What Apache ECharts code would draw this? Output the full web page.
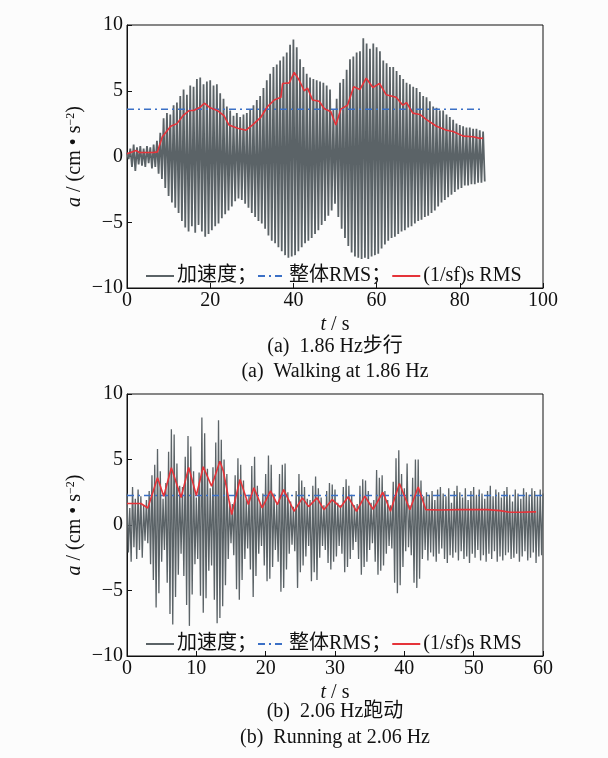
<!DOCTYPE html>
<html>
<head>
<meta charset="utf-8">
<script src="https://cdn.jsdelivr.net/npm/echarts@6/dist/echarts.min.js"></script>
<style>
html,body{margin:0;padding:0;background:#fcfcfc;}
#c{width:608px;height:758px;}
</style>
</head>
<body>
<div id="c"></div>
<script>
// ---------- Data ----------
// (a) Walking at 1.86 Hz : acceleration samples, one every walkDt seconds starting at 0 s
const walkDt = 0.4;
const walkAcc = [
  0.3,-0.2,0.6,-0.8,0.9,-1.1,0.7,-0.6,0.8,-0.7,
  0.6,-0.8,0.8,-0.5,0.7,-0.9,0.9,-0.8,1.2,-1.3,
  1.8,-1.7,2.9,-2.4,3.3,-3.0,3.2,-3.5,3.9,-3.9,
  4.1,-4.3,4.6,-4.9,5.1,-5.4,4.7,-5.7,5.4,-5.3,
  5.3,-5.8,5.9,-5.2,6.0,-5.7,5.5,-6.1,5.7,-5.9,
  5.8,-5.6,5.4,-5.3,5.5,-5.1,4.8,-4.7,4.4,-4.4,
  3.8,-4.1,3.5,-3.8,3.1,-3.4,3.3,-3.2,3.0,-3.3,
  3.2,-3.6,3.3,-3.9,3.6,-4.3,3.9,-4.6,4.3,-4.9,
  4.6,-5.1,5.2,-5.5,5.8,-6.0,6.3,-6.4,6.8,-6.6,
  7.0,-6.9,7.3,-7.2,7.6,-7.5,7.9,-7.7,8.5,-7.6,
  8.9,-7.5,8.3,-7.2,7.4,-6.9,6.8,-6.6,6.3,-6.4,
  6.0,-6.2,5.9,-5.9,5.8,-5.6,5.7,-5.2,5.6,-4.9,
  5.4,-4.5,5.1,-4.1,3.6,-3.6,4.4,-4.6,5.6,-5.5,
  5.9,-6.2,6.6,-6.8,7.4,-7.3,7.6,-7.6,7.9,-7.7,
  8.0,-7.8,9.0,-7.7,8.6,-7.8,8.2,-7.6,8.6,-7.5,
  8.3,-7.4,8.0,-7.0,7.3,-6.7,7.1,-6.4,6.8,-6.2,
  6.8,-6.1,6.5,-5.9,6.2,-5.7,5.9,-5.6,5.6,-5.4,
  5.5,-5.3,5.3,-5.1,5.2,-4.9,4.9,-4.8,4.6,-4.6,
  4.5,-4.5,4.2,-4.3,3.8,-4.1,3.7,-3.8,3.5,-3.5,
  3.5,-3.3,3.2,-3.1,3.0,-2.9,2.8,-2.7,2.5,-2.5,
  2.4,-2.4,2.3,-2.2,2.2,-2.2,2.2,-2.1,2.1,-2.1,
  2.1,-2.0,2.0,-2.0,1.9,-1.9
];
const walkRmsTime = [0,2.2,3,6.4,7.3,8.5,10.5,12,13.6,15,16,17.6,18.6,20,21.7,23.3,24.5,26.6,28.6,30.2,32.2,33.8,35.4,37,37.4,39,40.2,41.4,42.6,43.4,44.6,46.2,47.4,49,50.2,51.4,53,54.5,56,57.5,59.1,60.7,62.3,64.7,66.3,67.2,68.7,70.4,72,74.4,76.8,78.4,80.8,83.2,84.8,85.6];
const walkRmsValue = [0.2,0.45,0.3,0.3,0.35,1.5,2.3,2.5,3.15,3.5,3.5,3.75,4.05,3.7,3.5,3.1,2.4,2.15,2.0,2.4,3.0,3.8,4.3,4.5,5.55,5.6,6.4,5.8,5.0,5.2,4.3,4.2,3.65,3.4,2.4,3.6,3.9,5.3,5.1,5.95,5.25,5.55,4.7,4.5,3.9,4.1,3.3,3.2,2.8,2.3,2.0,1.9,1.55,1.5,1.38,1.4];
const walkOverallRms = 3.6;
const walkOverallSpan = [0, 85.6];

// (b) Running at 2.06 Hz : acceleration samples, one every runDt seconds starting at 0 s
const runDt = 0.2;
const runAcc = [
  2.4,-2.1,1.3,-2.8,2.9,-1.7,2.0,-2.6,2.7,-1.9,
  2.2,-2.5,1.5,-1.2,1.9,-1.4,2.6,-3.0,3.8,-4.2,
  4.6,-6.3,5.8,-5.2,4.1,-2.8,2.0,-1.9,3.2,-4.4,
  5.6,-6.8,7.3,-7.6,6.9,-5.5,4.7,-3.8,3.0,-2.2,
  2.9,-3.9,5.2,-6.1,6.8,-7.7,6.0,-5.3,4.1,-3.0,
  2.1,-2.6,4.0,-5.4,8.2,-6.7,7.0,-5.6,4.3,-3.5,
  2.8,-3.1,4.4,-5.7,6.3,-7.5,8.0,-7.1,6.5,-6.2,
  5.0,-4.6,3.9,-2.6,1.8,-1.4,1.6,-2.3,3.8,-4.9,
  5.1,-5.7,4.6,-4.2,3.4,-2.6,2.0,-1.8,2.3,-3.4,
  4.5,-5.5,5.2,-3.9,3.0,-2.2,1.7,-1.6,2.4,-3.1,
  3.9,-4.3,5.3,-4.1,4.6,-3.2,2.4,-1.9,1.6,-2.8,
  3.9,-5.1,4.6,-4.8,4.7,-3.4,2.5,-2.2,1.8,-1.5,
  1.4,-2.0,2.6,-4.8,3.9,-3.6,3.4,-3.1,2.9,-2.4,
  2.0,-1.6,1.9,-4.3,3.0,-3.6,3.7,-4.2,2.8,-2.5,
  2.1,-1.6,1.5,-1.9,2.6,-2.9,3.2,-3.4,3.1,-2.8,
  2.7,-2.4,1.7,-1.6,1.5,-2.2,2.9,-3.6,3.5,-3.2,
  3.0,-2.6,2.3,-1.9,1.5,-1.3,1.6,-2.6,3.0,-3.8,
  3.5,-3.2,3.4,-2.8,2.6,-1.9,1.7,-1.4,1.9,-2.8,
  4.2,-3.8,3.6,-3.5,3.8,-3.1,2.6,-2.2,1.9,-1.6,
  1.5,-1.8,3.3,-4.4,5.1,-5.2,5.7,-4.6,3.9,-3.2,
  2.8,-2.0,4.7,-1.7,1.5,-2.3,3.6,-4.4,5.0,-4.8,
  5.0,-4.1,3.4,-2.6,2.2,-1.9,2.5,-2.7,2.3,-2.1,
  2.6,-2.4,1.9,-2.8,2.7,-2.2,2.9,-1.8,2.4,-2.6,
  2.2,-2.9,2.8,-2.3,1.7,-2.5,2.6,-2.1,3.0,-2.7,
  2.5,-2.0,2.1,-2.6,2.8,-2.4,1.9,-2.9,2.6,-2.2,
  2.9,-2.5,2.3,-1.9,2.7,-2.7,2.4,-2.3,2.0,-2.8,
  2.6,-2.2,3.0,-2.6,2.2,-2.0,2.7,-2.8,2.5,-2.4,
  2.1,-2.7,2.6,-2.3,2.9,-2.1,2.3,-2.6,1.8,-2.5,
  2.7,-2.2,2.4,-2.8,2.0,-2.4,2.8,-2.0,2.5,-2.7,
  2.3,-2.5,2.8,-2.1,2.6,-2.9,2.2,-2.4,2.7,-2.3,
  2.4
];
const runRmsTime = [0,2,3,4.4,5.3,6.4,7.8,8.9,10,11,12.2,13.4,13.9,15.1,16.3,17.5,18.3,19.5,20.7,21.7,22.6,24.1,25.3,26.2,27.4,28.4,29.6,30.8,31.9,33.1,34.3,35.5,36.9,38,39.3,40.8,42,43.1,45.1,48,51.9,53.8,55.2,56.7,58.6,59];
const runRmsValue = [1.64,1.64,1.3,3.6,2.2,4.37,2.1,4.4,2.25,4.45,2.96,4.87,4.1,0.8,3.47,1.56,2.84,1.3,2.6,1.56,2.7,1.05,2.07,1.4,2.07,1.17,1.94,1.35,2.15,1.05,2.2,1.2,2.5,1.05,3.17,1.17,2.9,1.17,1.14,1.17,1.17,1.1,0.97,0.97,1.0,1.0];
const runOverallRms = 2.25;
const runOverallSpan = [0, 60];

// tick ranges
const walkX = {min: 0, max: 100, interval: 20};
const runX = {min: 0, max: 60, interval: 10};
const accY = {min: -10, max: 10, interval: 5};

const seriesNames = ['加速度；', '整体RMS；', '(1/sf)s RMS'];
const captions = ['(a)  1.86 Hz步行', '(a)  Walking at 1.86 Hz', '(b)  2.06 Hz跑动', '(b)  Running at 2.06 Hz'];

// ---------- Build ----------
const FONT = '"Liberation Serif", "Times New Roman", "Noto Sans CJK SC", serif';
const SIG = '#5b6367', BLUE = '#3b70c6', RED = '#e5343a';
const pairs = (dt, arr) => arr.map((v, i) => [+(i * dt).toFixed(3), v]);
const zip = (a, b) => a.map((t, i) => [t, b[i]]);
const fmt = v => String(v).replace('-', '\u2212');

function xAxis(gi, r) {
  return {
    type: 'value', gridIndex: gi, min: r.min, max: r.max, interval: r.interval,
    name: '{it|t} / s', nameLocation: 'middle', nameGap: 27,
    nameTextStyle: {color: '#111', fontFamily: FONT, fontSize: 20,
      rich: {it: {fontStyle: 'italic', fontFamily: FONT, fontSize: 20, color: '#111'}}},
    axisLine: {onZero: false, lineStyle: {color: '#111', width: 1}},
    axisTick: {inside: true, length: 5, lineStyle: {color: '#111'}},
    axisLabel: {color: '#111', fontFamily: FONT, fontSize: 20, margin: 3, formatter: fmt},
    splitLine: {show: false}
  };
}
function yAxis(gi) {
  return {
    type: 'value', gridIndex: gi, min: accY.min, max: accY.max, interval: accY.interval,
    name: '{it|a} / (cm \u2022 s{sup|\u22122})', nameLocation: 'middle', nameGap: 42, nameRotate: 90,
    nameMoveOverlap: false,
    nameTextStyle: {color: '#111', fontFamily: FONT, fontSize: 20,
      rich: {
        it: {fontStyle: 'italic', fontFamily: FONT, fontSize: 20, color: '#111'},
        sup: {fontFamily: FONT, fontSize: 12, color: '#111', verticalAlign: 'top'}
      }},
    axisLine: {onZero: false, lineStyle: {color: '#111', width: 1}},
    axisTick: {inside: true, length: 5, lineStyle: {color: '#111'}},
    axisLabel: {color: '#111', fontFamily: FONT, fontSize: 20, margin: 4, formatter: fmt},
    splitLine: {show: false}
  };
}
function seriesFor(i, dt, acc, rmsT, rmsV, overall, span, w) {
  return [
    {name: seriesNames[0], type: 'line', xAxisIndex: i, yAxisIndex: i, data: pairs(dt, acc),
      showSymbol: false, symbol: 'none', lineStyle: {color: SIG, width: w}, itemStyle: {color: SIG}, z: 2},
    {name: seriesNames[1], type: 'line', xAxisIndex: i, yAxisIndex: i,
      data: [[span[0], overall], [span[1], overall]],
      showSymbol: false, symbol: 'none', lineStyle: {color: BLUE, width: 1.5, type: [7, 4, 2, 4]}, itemStyle: {color: BLUE}, z: 3},
    {name: seriesNames[2], type: 'line', xAxisIndex: i, yAxisIndex: i, data: zip(rmsT, rmsV),
      showSymbol: false, symbol: 'none', lineStyle: {color: RED, width: 1.6}, itemStyle: {color: RED}, z: 4}
  ];
}
function legend(top) {
  return {
    left: 140, top: top, orient: 'horizontal', itemWidth: 28, itemHeight: 14, itemGap: 0,
    data: seriesNames.slice(),
    selectedMode: false,
    itemStyle: {opacity: 0, borderWidth: 0},
    textStyle: {color: '#111', fontFamily: FONT, fontSize: 20, padding: [0, 0, 0, -2]}
  };
}
function caption(y, text) {
  return {type: 'text', x: 335, y: y,
    style: {text: text, fill: '#111', font: '20px ' + FONT, align: 'center', verticalAlign: 'middle'}};
}

const chart = echarts.init(document.getElementById('c'), null, {renderer: 'canvas'});
chart.setOption({
  backgroundColor: '#fcfcfc',
  animation: false,
  grid: [
    {left: 127, top: 25, width: 416, height: 263, show: true, borderColor: '#111', borderWidth: 1, backgroundColor: 'transparent'},
    {left: 127, top: 394, width: 416, height: 262, show: true, borderColor: '#111', borderWidth: 1, backgroundColor: 'transparent'}
  ],
  xAxis: [xAxis(0, walkX), xAxis(1, runX)],
  yAxis: [yAxis(0), yAxis(1)],
  legend: [legend(261), legend(629)],
  series: [].concat(
    seriesFor(0, walkDt, walkAcc, walkRmsTime, walkRmsValue, walkOverallRms, walkOverallSpan, 1.8),
    seriesFor(1, runDt, runAcc, runRmsTime, runRmsValue, runOverallRms, runOverallSpan, 1.3)
  ),
  graphic: [
    caption(347, captions[0]),
    caption(372, captions[1]),
    caption(712, captions[2]),
    caption(738, captions[3])
  ]
});
</script>
</body>
</html>
